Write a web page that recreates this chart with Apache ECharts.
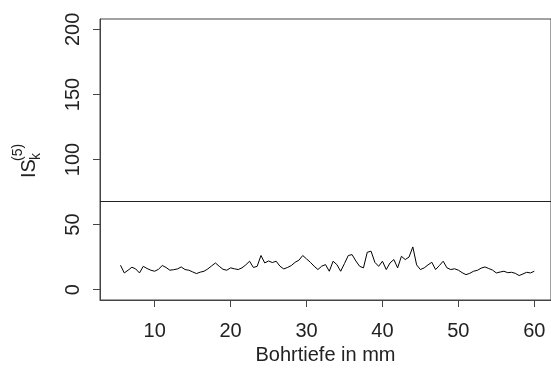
<!DOCTYPE html>
<html>
<head>
<meta charset="utf-8">
<script src="https://cdn.jsdelivr.net/npm/echarts@6/dist/echarts.min.js"></script>
<style>
  html, body { margin: 0; padding: 0; background: #fff; }
  #chart { width: 551px; height: 378px; }
</style>
</head>
<body>
<div id="chart"></div>
<script>
// Drilling depth (mm) and moving index IS_k^(5)
const depth = [
  5.5, 6.0, 6.5, 7.0, 7.5, 8.0, 8.5, 9.0, 9.5, 10.0,
  10.5, 11.0, 11.5, 12.0, 12.5, 13.0, 13.5, 14.0, 14.5, 15.0,
  15.5, 16.0, 16.5, 17.0, 17.5, 18.0, 18.5, 19.0, 19.5, 20.0,
  20.5, 21.0, 21.5, 22.0, 22.5, 23.0, 23.5, 24.0, 24.5, 25.0,
  25.5, 26.0, 26.5, 27.0, 27.5, 28.0, 28.5, 29.0, 29.5, 30.0,
  30.5, 31.0, 31.5, 32.0, 32.5, 33.0, 33.5, 34.0, 34.5, 35.0,
  35.5, 36.0, 36.5, 37.0, 37.5, 38.0, 38.5, 39.0, 39.5, 40.0,
  40.5, 41.0, 41.5, 42.0, 42.5, 43.0, 43.5, 44.0, 44.5, 45.0,
  45.5, 46.0, 46.5, 47.0, 47.5, 48.0, 48.5, 49.0, 49.5, 50.0,
  50.5, 51.0, 51.5, 52.0, 52.5, 53.0, 53.5, 54.0, 54.5, 55.0,
  55.5, 56.0, 56.5, 57.0, 57.5, 58.0, 58.5, 59.0, 59.5, 60.0
];
const isValues = [
  18.7, 12.8, 14.9, 17.2, 15.9, 12.8, 17.9, 16.2, 14.9, 14.1,
  15.6, 18.5, 17.0, 14.9, 15.3, 15.9, 17.4, 15.4, 14.9, 13.6,
  12.3, 13.4, 14.1, 15.9, 18.2, 20.5, 17.9, 15.6, 14.9, 16.7,
  16.0, 15.4, 16.7, 19.0, 21.8, 17.0, 17.9, 26.2, 20.5, 22.0,
  20.8, 21.8, 18.0, 15.9, 17.0, 18.5, 21.0, 22.6, 26.2, 23.6,
  21.0, 18.0, 15.4, 18.0, 19.2, 14.1, 21.8, 19.2, 14.1, 20.0,
  26.2, 26.9, 22.0, 17.9, 16.7, 28.7, 29.5, 21.0, 17.9, 21.8,
  15.4, 20.5, 23.1, 16.7, 25.6, 23.1, 25.0, 32.8, 19.0, 15.4,
  16.7, 19.0, 21.0, 15.4, 18.5, 21.8, 16.7, 15.4, 16.0, 14.9,
  13.0, 11.5, 12.5, 14.1, 14.8, 16.5, 17.4, 16.2, 15.0, 12.8,
  13.5, 14.1, 13.0, 13.3, 12.5, 10.8, 12.0, 13.3, 12.8, 14.1
];
const threshold = 68;
const xTicks = [10, 20, 30, 40, 50, 60];
const yTicks = [0, 50, 100, 150, 200];

const font = 'Liberation Sans, Arial, sans-serif';
const axisColor = '#444';
const textColor = '#222';

const chart = echarts.init(document.getElementById('chart'), null, { renderer: 'canvas' });

chart.setOption({
  animation: false,
  backgroundColor: '#fff',
  grid: {
    left: 100, top: 19, right: -6, bottom: 78,
    show: true, borderColor: axisColor, borderWidth: 1,
    backgroundColor: 'transparent'
  },
  xAxis: {
    type: 'value',
    min: 2.8, max: 62.2,
    name: 'Bohrtiefe in mm',
    nameLocation: 'middle',
    nameGap: 37,
    nameTextStyle: { fontFamily: font, fontSize: 20, color: textColor },
    axisLine: { show: true, onZero: false, lineStyle: { color: axisColor, width: 1 } },
    axisTick: { show: true, length: 7, inside: false, customValues: xTicks, lineStyle: { color: axisColor } },
    axisLabel: { customValues: xTicks, margin: 21, fontFamily: font, fontSize: 20, color: textColor },
    splitLine: { show: false }
  },
  yAxis: {
    type: 'value',
    min: -8, max: 208,
    axisLine: { show: true, onZero: false, lineStyle: { color: axisColor, width: 1 } },
    axisTick: { show: true, length: 7, inside: false, customValues: yTicks, lineStyle: { color: axisColor } },
    axisLabel: { customValues: yTicks, rotate: 90, margin: 17, fontFamily: font, fontSize: 20, color: textColor },
    splitLine: { show: false }
  },
  graphic: [{
    type: 'group',
    x: 29, y: 178,
    rotation: Math.PI / 2,
    children: [
      { type: 'text', x: 0, y: 0, style: { text: 'IS', font: '20px ' + font, fill: textColor, align: 'left', verticalAlign: 'middle' } },
      { type: 'text', x: 18, y: 7, style: { text: 'k', font: '14px ' + font, fill: textColor, align: 'left', verticalAlign: 'middle' } },
      { type: 'text', x: 17, y: -11, style: { text: '(5)', font: '14px ' + font, fill: textColor, align: 'left', verticalAlign: 'middle' } }
    ]
  }],
  series: [{
    type: 'line',
    data: depth.map((d, i) => [d, isValues[i]]),
    showSymbol: false,
    symbol: 'none',
    lineStyle: { color: '#000', width: 1 },
    markLine: {
      silent: true,
      symbol: 'none',
      label: { show: false },
      lineStyle: { color: '#222', width: 1, type: 'solid' },
      data: [{ yAxis: threshold }]
    }
  }]
});
</script>
</body>
</html>
